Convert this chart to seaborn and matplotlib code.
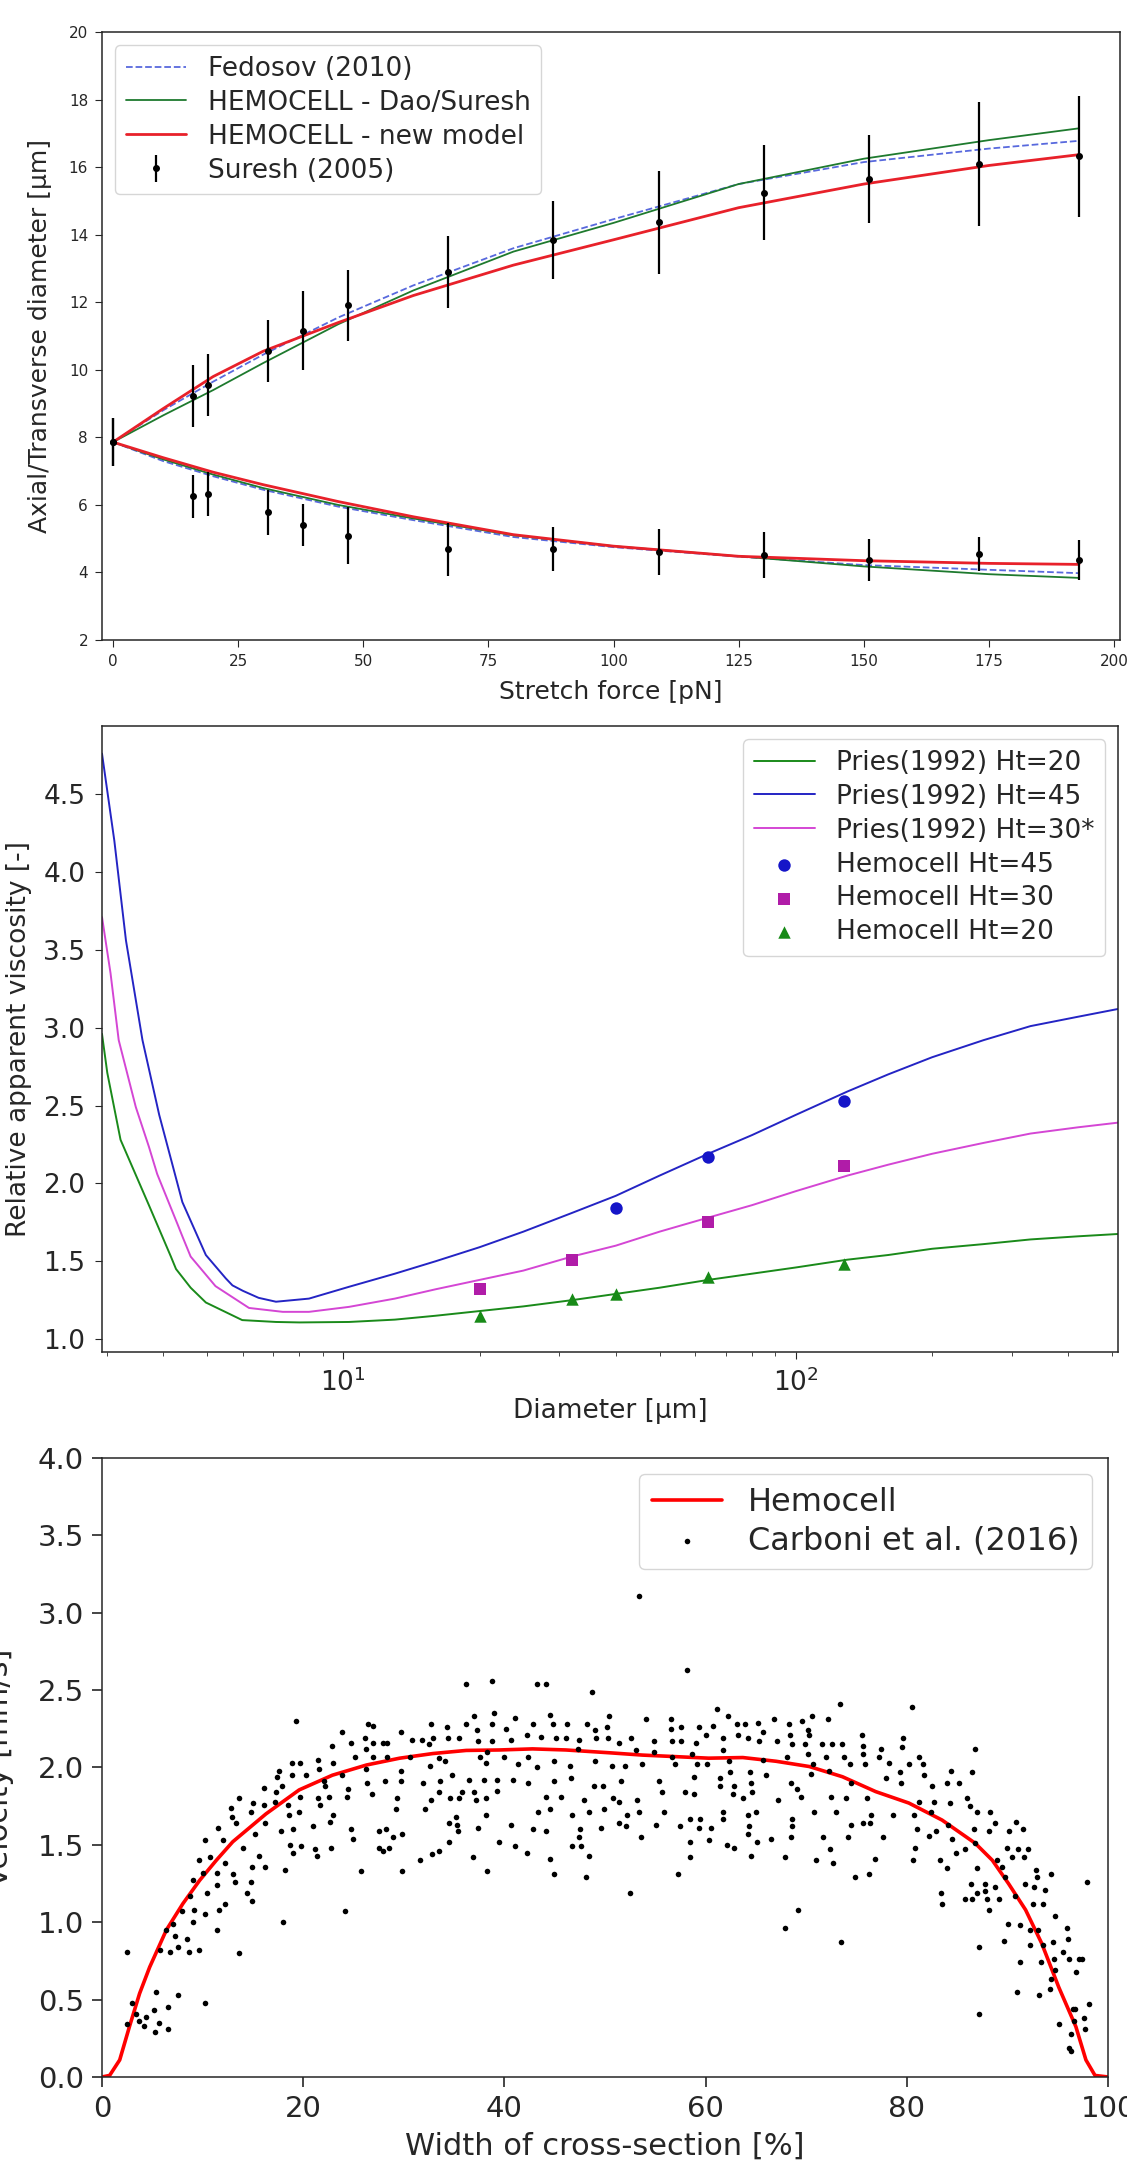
import matplotlib
matplotlib.use("Agg")
import matplotlib.pyplot as plt
import seaborn as sns

# ---------------- panel 1: RBC stretching ----------------
stretch_force = [0, 16, 19, 31, 38, 47, 67, 88, 109, 130, 151, 173, 193]
suresh_axial = [7.86, 9.23, 9.55, 10.55, 11.16, 11.91, 12.9, 13.85, 14.37, 15.25, 15.66, 16.1, 16.32]
suresh_axial_err = [0.72, 0.92, 0.92, 0.92, 1.16, 1.06, 1.06, 1.16, 1.53, 1.41, 1.3, 1.84, 1.79]
suresh_trans = [7.86, 6.25, 6.32, 5.78, 5.41, 5.09, 4.69, 4.69, 4.62, 4.51, 4.37, 4.55, 4.37]
suresh_trans_err = [0.72, 0.65, 0.65, 0.66, 0.63, 0.84, 0.78, 0.65, 0.68, 0.68, 0.61, 0.51, 0.58]

model_force = [0, 10, 20, 30, 45, 60, 80, 100, 125, 150, 175, 193]
fedosov_axial = [7.86, 8.8, 9.65, 10.45, 11.55, 12.5, 13.6, 14.46, 15.5, 16.15, 16.55, 16.78]
fedosov_trans = [7.86, 7.3, 6.85, 6.45, 5.95, 5.55, 5.05, 4.75, 4.47, 4.22, 4.08, 3.98]
dao_axial = [7.86, 8.65, 9.4, 10.2, 11.35, 12.35, 13.5, 14.35, 15.5, 16.25, 16.8, 17.15]
dao_trans = [7.86, 7.35, 6.9, 6.5, 6.0, 5.6, 5.1, 4.78, 4.48, 4.18, 3.95, 3.84]
new_axial = [7.86, 8.85, 9.8, 10.55, 11.4, 12.2, 13.1, 13.85, 14.8, 15.5, 16.05, 16.37]
new_trans = [7.86, 7.4, 6.97, 6.6, 6.1, 5.65, 5.12, 4.78, 4.48, 4.35, 4.27, 4.24]

# ---------------- panel 2: apparent viscosity ----------------
pries45_d = [2.93, 3.12, 3.31, 3.60, 3.92, 4.41, 4.97, 5.5, 5.69, 6.0, 6.5,
             7.1, 8.4, 10.3, 13, 16, 20, 25, 32, 40, 50,
             64, 80, 100, 130, 160, 200, 260, 330, 420, 515]
pries45_mu = [4.76, 4.20, 3.56, 2.92, 2.44, 1.88, 1.54, 1.39, 1.345, 1.31, 1.265,
              1.24, 1.26, 1.336, 1.42, 1.50, 1.59, 1.69, 1.81, 1.92, 2.05,
              2.19, 2.31, 2.44, 2.59, 2.70, 2.81, 2.92, 3.01, 3.07, 3.12]
pries30_d = [2.93, 3.06, 3.19, 3.48, 3.72, 3.88, 4.30, 4.41, 4.60, 5.22, 6.19, 7.35,
             8.4, 10.3, 13, 16, 20, 25, 32, 40, 50, 64,
             80, 100, 130, 160, 200, 260, 330, 420, 515]
pries30_mu = [3.71, 3.35, 2.92, 2.49, 2.235, 2.06, 1.74, 1.66, 1.53, 1.34, 1.20, 1.175,
              1.175, 1.207, 1.26, 1.32, 1.38, 1.44, 1.53, 1.60, 1.69, 1.78,
              1.86, 1.95, 2.05, 2.12, 2.19, 2.26, 2.32, 2.36, 2.39]
pries20_d = [2.93, 3.01, 3.22, 3.72, 4.16, 4.27, 4.6, 4.97, 5.98, 7.1, 8.0,
             10.3, 13, 16, 20, 25, 32, 40, 50, 64, 80,
             100, 130, 160, 200, 260, 330, 420, 515]
pries20_mu = [2.96, 2.71, 2.28, 1.86, 1.53, 1.45, 1.33, 1.235, 1.122, 1.11, 1.107,
              1.11, 1.125, 1.15, 1.18, 1.21, 1.25, 1.29, 1.33, 1.38, 1.42,
              1.46, 1.51, 1.54, 1.58, 1.61, 1.64, 1.66, 1.675]
hemo45_d = [40, 64, 128]
hemo45_mu = [1.84, 2.17, 2.53]
hemo30_d = [20, 32, 64, 128]
hemo30_mu = [1.32, 1.51, 1.75, 2.11]
hemo20_d = [20, 32, 40, 64, 128]
hemo20_mu = [1.15, 1.255, 1.29, 1.40, 1.48]

# ---------------- panel 3: velocity profile ----------------
profile_x = [0, 0.76, 1.76, 2.75, 3.74, 4.74, 6.4, 8.04, 9.7, 11.36, 13.0, 16.3, 19.6, 22.9,
             26.3, 29.6, 32.9, 36.2, 39.5, 42.8, 46.1, 50.4, 53.7, 57.0, 60.3, 63.7, 67.0,
             70.3, 73.6, 76.9, 80.2, 83.5, 86.8, 88.5, 90.1, 91.8, 93.4, 95.1, 96.8, 97.8,
             98.7, 100]
profile_v = [0, 0.01, 0.11, 0.33, 0.54, 0.71, 0.95, 1.12, 1.27, 1.40, 1.52, 1.70, 1.855, 1.95,
             2.016, 2.06, 2.09, 2.11, 2.113, 2.12, 2.113, 2.095, 2.08, 2.07, 2.06, 2.064, 2.04,
             2.006, 1.94, 1.844, 1.77, 1.66, 1.51, 1.40, 1.25, 1.08, 0.864, 0.58, 0.325, 0.11,
             0.01, 0.0]

carboni_x_left = [
    2.5, 2.5, 3.0, 3.4, 3.7, 4.2, 4.4, 5.2, 5.3, 5.4,
    5.7, 6.6, 6.6, 7.6, 5.8, 6.8, 6.4, 7.1, 7.3, 7.6,
    8.4, 8.6, 9.6, 10.2, 8.0, 8.7, 9.1, 9.0, 9.0, 9.6,
    10.0, 10.2, 10.2, 10.4, 10.7, 11.4, 11.4, 11.4, 11.5, 11.6,
    12.0, 12.2, 12.2, 12.8, 12.9, 13.0, 13.2, 13.3, 13.6, 13.6,
    14.0, 14.4, 14.8, 14.8, 14.9, 14.9, 15.0, 15.2, 15.6, 16.1,
    16.1, 16.2, 16.2, 17.2, 17.3, 17.4, 17.6, 17.9, 17.8, 18.0,
    18.2, 18.5, 18.6, 18.7, 18.9, 18.9, 19.0, 19.0, 19.3, 19.6,
    19.7, 19.7, 19.8, 20.3, 21.0, 21.2, 21.4, 21.5, 21.5, 21.6,
    21.7, 22.1, 22.2, 22.6, 22.7, 22.8, 22.9, 23.0, 23.0, 23.9,
    23.9, 24.2, 24.4, 24.5, 24.8, 24.8, 24.9, 25.1, 25.7, 26.1,
    26.2, 26.2, 26.3, 26.4, 26.8, 26.9, 26.9, 26.9, 27.5, 27.5,
    27.9, 27.9, 28.1, 28.2, 28.3, 28.3, 28.5, 28.9, 29.2, 29.3,
    29.7, 29.7, 29.7, 29.8, 29.8, 30.6, 30.8, 31.6, 31.8, 31.9,
    32.1, 32.5, 32.6, 32.7, 32.7, 32.8, 32.9, 33.5, 33.5, 33.5,
    33.6, 34.1, 34.3, 34.4, 34.5, 34.5, 34.6, 34.8, 35.2, 35.3,
    35.4, 35.5, 35.5, 35.8, 36.2, 36.2, 36.5, 36.9, 37.0, 37.0,
    37.2, 37.3, 37.4, 37.4, 37.6, 38.0, 38.2, 38.2, 38.2, 38.3,
    38.3, 38.8, 38.8, 38.8, 39.0, 39.3, 39.3, 39.5, 40.0, 40.2,
    40.7, 40.7, 40.9, 41.1, 41.1, 41.3, 42.2, 42.2, 42.3, 42.3,
    42.8, 42.8, 43.2, 43.2, 43.3, 43.6, 44.1, 44.1, 44.1, 44.5,
    44.5, 44.5, 44.8, 44.9, 44.9, 44.9, 45.1, 45.6, 46.1, 46.2,
    46.5, 46.6, 46.7, 46.7, 47.3, 47.4, 47.4, 47.5, 47.6, 47.9,
    48.2, 48.1, 48.4, 48.4, 48.7, 48.9, 49.0, 49.0, 49.1, 49.6,
    49.8, 49.9, 50.2, 50.3, 50.4, 50.7, 50.8, 53.4]
carboni_v_left = [
    0.81, 0.34, 0.48, 0.41, 0.36, 0.33, 0.39, 0.43, 0.29, 0.55,
    0.35, 0.45, 0.31, 0.53, 0.82, 0.81, 0.95, 0.99, 0.91, 0.84,
    0.89, 0.81, 0.82, 0.48, 1.07, 1.17, 1.08, 1.27, 1.00, 1.40,
    1.32, 1.53, 1.05, 1.19, 1.42, 1.32, 1.24, 0.95, 1.61, 1.08,
    1.53, 1.38, 1.12, 1.74, 1.68, 1.31, 1.26, 1.64, 1.80, 0.80,
    1.48, 1.19, 1.71, 1.26, 1.14, 1.36, 1.77, 1.57, 1.43, 1.87,
    1.76, 1.64, 1.36, 1.78, 1.84, 1.94, 1.98, 1.88, 1.59, 1.00,
    1.34, 1.76, 1.69, 1.50, 2.03, 1.95, 1.60, 1.45, 2.30, 1.71,
    2.03, 1.81, 1.49, 1.95, 1.62, 1.47, 1.43, 2.05, 1.80, 1.99,
    1.76, 1.91, 1.88, 1.81, 1.65, 1.48, 2.14, 2.03, 1.69, 1.95,
    2.23, 1.07, 1.81, 1.86, 2.16, 1.60, 1.54, 2.07, 1.33, 2.19,
    2.12, 1.99, 1.90, 2.28, 1.83, 2.27, 2.16, 2.07, 1.48, 1.59,
    2.16, 1.46, 1.91, 1.60, 2.07, 2.16, 1.48, 1.55, 1.73, 1.80,
    2.23, 1.98, 1.91, 1.57, 1.33, 2.07, 2.18, 1.40, 2.18, 1.90,
    1.73, 2.15, 2.01, 2.28, 1.79, 1.44, 2.19, 2.06, 1.84, 1.46,
    1.91, 2.04, 2.26, 2.19, 1.64, 1.52, 1.80, 1.95, 1.68, 1.63,
    1.59, 1.80, 2.19, 1.84, 2.54, 2.28, 1.92, 1.42, 2.33, 1.84,
    1.79, 2.24, 2.17, 1.61, 2.07, 1.92, 2.03, 1.80, 1.69, 1.33,
    2.10, 2.56, 2.28, 2.17, 2.35, 1.92, 1.85, 1.52, 2.07, 2.25,
    1.63, 2.18, 1.92, 2.32, 1.49, 2.02, 2.21, 1.45, 2.07, 1.90,
    2.28, 1.60, 2.00, 2.54, 1.71, 2.20, 2.54, 1.81, 1.59, 2.34,
    1.41, 1.73, 2.28, 2.04, 1.91, 1.31, 2.19, 1.81, 2.19, 2.28,
    2.01, 1.93, 1.69, 1.49, 2.12, 2.18, 1.55, 1.60, 1.49, 1.79,
    2.28, 1.29, 1.71, 1.43, 2.49, 1.88, 2.04, 2.24, 2.19, 1.61,
    1.88, 1.73, 2.26, 2.19, 2.33, 2.01, 1.80, 3.11]

carboni_x_right = [
    51.4, 51.4, 51.6, 51.4, 52.0, 52.1, 52.2, 52.5, 52.6, 53.1,
    53.2, 53.4, 53.6, 53.7, 54.1, 54.9, 54.9, 55.1, 55.4, 55.7,
    55.9, 56.6, 56.6, 56.7, 56.7, 57.0, 57.3, 57.5, 57.6, 57.6,
    57.9, 58.1, 58.4, 58.4, 58.4, 58.6, 58.8, 58.8, 59.0, 59.1,
    59.3, 59.3, 59.4, 60.0, 60.1, 60.3, 60.5, 60.7, 61.1, 61.4,
    61.4, 61.7, 61.7, 61.7, 61.7, 62.1, 62.2, 62.3, 62.4, 62.7,
    62.8, 62.8, 63.1, 63.2, 63.7, 63.9, 64.2, 64.2, 64.3, 64.2,
    64.4, 64.5, 64.6, 64.5, 65.0, 65.1, 65.2, 65.3, 65.7, 65.7,
    66.0, 66.5, 66.8, 67.1, 67.2, 67.9, 67.9, 68.1, 68.3, 68.4,
    68.5, 68.6, 68.6, 68.6, 68.5, 69.1, 69.2, 69.5, 69.6, 69.9,
    70.2, 70.2, 70.3, 70.5, 70.6, 70.7, 70.8, 71.0, 71.6, 71.7,
    72.0, 72.2, 72.3, 72.4, 72.5, 72.6, 72.7, 73.0, 73.4, 73.5,
    73.6, 73.8, 74.0, 74.2, 74.3, 74.4, 74.4, 74.8, 75.5, 75.6,
    75.6, 75.6, 75.8, 76.0, 76.2, 76.3, 76.4, 76.8, 77.2, 77.4,
    77.6, 77.9, 78.2, 78.6, 79.3, 79.4, 79.5, 79.6, 80.2, 80.5,
    80.6, 80.7, 80.8, 81.0, 81.2, 81.2, 81.6, 81.7, 82.2, 82.4,
    82.5, 82.7, 82.9, 83.3, 83.4, 83.5, 84.0, 84.0, 84.1, 84.3,
    84.4, 84.5, 84.9, 85.2, 85.8, 85.8, 86.0, 86.3, 86.4, 86.5,
    86.5, 86.7, 86.8, 86.8, 87.0, 87.0, 87.0, 87.2, 87.2, 87.8,
    87.8, 88.0, 88.2, 88.2, 88.3, 88.8, 88.8, 89.0, 89.2, 89.5,
    89.7, 89.8, 90.0, 90.1, 90.2, 90.5, 90.7, 90.8, 90.9, 91.0,
    91.2, 91.2, 91.5, 91.6, 91.7, 92.0, 92.2, 92.2, 92.5, 92.6,
    92.8, 92.9, 93.0, 93.1, 93.3, 93.5, 93.5, 93.7, 94.2, 94.3,
    94.3, 94.5, 94.6, 94.7, 94.7, 95.1, 95.5, 95.9, 96.0, 96.1,
    96.1, 96.3, 96.3, 96.5, 96.6, 96.7, 96.8, 97.1, 97.4, 97.6,
    97.7, 97.9, 98.1]
carboni_v_right = [
    1.78, 2.16, 1.91, 1.64, 2.01, 1.62, 1.69, 1.19, 2.19, 2.11,
    1.79, 1.71, 1.55, 2.02, 2.31, 2.17, 2.10, 1.63, 1.91, 1.84,
    1.71, 2.31, 2.25, 2.17, 2.07, 2.02, 1.31, 1.62, 2.26, 2.17,
    1.84, 2.63, 1.67, 1.52, 1.42, 2.09, 1.94, 1.83, 2.16, 2.02,
    2.26, 1.61, 1.67, 2.21, 2.02, 1.53, 1.61, 2.27, 2.38, 1.93,
    1.88, 2.19, 2.11, 1.71, 1.67, 1.50, 2.33, 2.04, 1.97, 1.83,
    1.88, 1.48, 2.28, 2.21, 1.80, 2.28, 2.19, 1.69, 1.62, 1.57,
    1.97, 1.90, 1.84, 1.43, 1.71, 1.52, 2.29, 2.17, 2.23, 2.05,
    1.95, 1.54, 2.31, 2.17, 1.79, 1.42, 0.96, 2.07, 2.28, 2.21,
    1.90, 2.15, 1.67, 1.62, 1.55, 1.86, 1.08, 1.81, 2.30, 2.15,
    2.24, 2.09, 2.21, 1.96, 2.33, 2.02, 1.71, 1.40, 2.15, 1.55,
    2.07, 2.31, 1.98, 1.47, 1.81, 2.15, 1.38, 1.71, 2.41, 0.87,
    2.15, 2.07, 1.80, 1.55, 2.02, 1.63, 1.90, 1.29, 2.21, 2.14,
    2.09, 1.64, 2.02, 1.80, 1.31, 1.64, 1.69, 1.41, 2.07, 2.12,
    1.55, 1.93, 2.03, 1.69, 1.97, 1.90, 2.13, 2.19, 2.02, 2.39,
    1.40, 1.69, 1.48, 1.60, 2.07, 1.78, 2.02, 1.95, 1.56, 1.71,
    1.88, 1.78, 1.59, 1.40, 1.19, 1.12, 1.90, 1.35, 1.63, 1.77,
    1.98, 1.54, 1.45, 1.90, 1.15, 1.47, 1.80, 1.75, 1.25, 1.15,
    1.97, 1.60, 2.12, 1.51, 1.71, 1.35, 1.19, 0.84, 0.41, 1.25,
    1.20, 1.15, 1.59, 1.08, 1.71, 1.23, 1.64, 1.40, 1.15, 1.36,
    0.88, 1.29, 1.48, 0.99, 1.59, 1.42, 1.17, 1.65, 0.55, 1.47,
    0.98, 0.74, 1.60, 1.42, 1.25, 1.47, 0.85, 0.95, 1.12, 1.23,
    1.34, 1.29, 0.95, 0.53, 0.74, 0.85, 1.12, 1.21, 0.57, 1.31,
    0.63, 0.87, 0.76, 0.69, 1.04, 0.34, 0.81, 0.96, 0.89, 0.76,
    0.19, 0.17, 0.28, 0.44, 0.36, 0.44, 0.68, 0.76, 0.76, 0.38,
    0.31, 1.26, 0.47]

carboni_x = carboni_x_left + carboni_x_right
carboni_v = carboni_v_left + carboni_v_right

sns.set_style("ticks")
plt.rcParams['font.family'] = ['DejaVu Sans', 'Noto Sans']

fig = plt.figure(figsize=(11.27, 21.66), dpi=100)
ax1 = fig.add_axes([0.0905, 0.7045, 0.9033, 0.2807])
ax2 = fig.add_axes([0.0905, 0.3758, 0.9015, 0.2890])
ax3 = fig.add_axes([0.0905, 0.0411, 0.8927, 0.2858])

# ---- panel 1
fed_c = '#3b4fd8'
sns.lineplot(x=model_force, y=fedosov_axial, ax=ax1, color=fed_c, lw=1.3, linestyle='--', alpha=0.85,
             label='Fedosov (2010)')
sns.lineplot(x=model_force, y=fedosov_trans, ax=ax1, color=fed_c, lw=1.3, linestyle='--', alpha=0.85)
sns.lineplot(x=model_force, y=dao_axial, ax=ax1, color='#1e7a2e', lw=1.3, label='HEMOCELL - Dao/Suresh')
sns.lineplot(x=model_force, y=dao_trans, ax=ax1, color='#1e7a2e', lw=1.3)
sns.lineplot(x=model_force, y=new_axial, ax=ax1, color='#e8212a', lw=2.0, label='HEMOCELL - new model')
sns.lineplot(x=model_force, y=new_trans, ax=ax1, color='#e8212a', lw=2.0)
ax1.errorbar(stretch_force, suresh_axial, yerr=suresh_axial_err, fmt='o', color='black', ms=4,
             elinewidth=1.6, capsize=0, zorder=4, label='Suresh (2005)')
ax1.errorbar(stretch_force, suresh_trans, yerr=suresh_trans_err, fmt='o', color='black', ms=4,
             elinewidth=1.6, capsize=0, zorder=4)
ax1.set_xlim(-2.2, 201.2)
ax1.set_ylim(2, 20)
ax1.set_xticks(range(0, 201, 25))
ax1.set_yticks(range(2, 21, 2))
ax1.tick_params(labelsize=11, length=5, pad=5)
ax1.set_xlabel('Stretch force [pN]', fontsize=18)
ax1.set_ylabel('Axial/Transverse diameter [μm]', fontsize=18)
ax1.xaxis.set_label_coords(0.5, -0.066)
ax1.yaxis.set_label_coords(-0.049, 0.5)
h, l = ax1.get_legend_handles_labels()
ax1.legend(h, l, loc='upper left', fontsize=19, handlelength=2.3, labelspacing=0.3, frameon=True)

# ---- panel 2
sns.lineplot(x=pries20_d, y=pries20_mu, ax=ax2, color='#1a8a1a', lw=1.4, label='Pries(1992) Ht=20')
sns.lineplot(x=pries45_d, y=pries45_mu, ax=ax2, color='#2424c4', lw=1.4, label='Pries(1992) Ht=45')
sns.lineplot(x=pries30_d, y=pries30_mu, ax=ax2, color='#d446d4', lw=1.4, label='Pries(1992) Ht=30*')
sns.scatterplot(x=hemo45_d, y=hemo45_mu, ax=ax2, color='#1515c8', marker='o', s=80, linewidth=0,
                label='Hemocell Ht=45', zorder=4)
sns.scatterplot(x=hemo30_d, y=hemo30_mu, ax=ax2, color='#b01ca8', marker='s', s=80, linewidth=0,
                label='Hemocell Ht=30', zorder=4)
sns.scatterplot(x=hemo20_d, y=hemo20_mu, ax=ax2, color='#178a17', marker='^', s=80, linewidth=0,
                label='Hemocell Ht=20', zorder=4)
ax2.set_xscale('log')
ax2.set_xlim(2.93, 515)
ax2.set_ylim(0.917, 4.937)
ax2.tick_params(labelsize=19, length=5, pad=7)
ax2.tick_params(which='minor', length=3)
ax2.set_xlabel('Diameter [μm]', fontsize=19)
ax2.set_ylabel('Relative apparent viscosity [-]', fontsize=19)
ax2.xaxis.set_label_coords(0.5, -0.073)
ax2.yaxis.set_label_coords(-0.069, 0.5)
h, l = ax2.get_legend_handles_labels()
ax2.legend(h, l, loc='upper right', fontsize=19, handlelength=2.3, labelspacing=0.3, frameon=True)

# ---- panel 3
sns.lineplot(x=profile_x, y=profile_v, ax=ax3, color='red', lw=2.6, label='Hemocell')
sns.scatterplot(x=carboni_x, y=carboni_v, ax=ax3, color='black', s=16, linewidth=0, zorder=3,
                label='Carboni et al. (2016)')
ax3.set_xlim(0, 100)
ax3.set_ylim(0, 4)
ax3.tick_params(labelsize=21, length=7, width=1.2, pad=6)
ax3.set_xlabel('Width of cross-section [%]', fontsize=22)
ax3.set_ylabel('Velocity [mm/s]', fontsize=22)
ax3.xaxis.set_label_coords(0.5, -0.088)
ax3.yaxis.set_label_coords(-0.0875, 0.5)
h, l = ax3.get_legend_handles_labels()
ax3.legend(h, l, loc='upper right', fontsize=23, handlelength=2.2, labelspacing=0.25, frameon=True)

for ax in (ax1, ax2, ax3):
    for sp in ax.spines.values():
        sp.set_linewidth(1.1)

fig.savefig('out.png', dpi=100)
